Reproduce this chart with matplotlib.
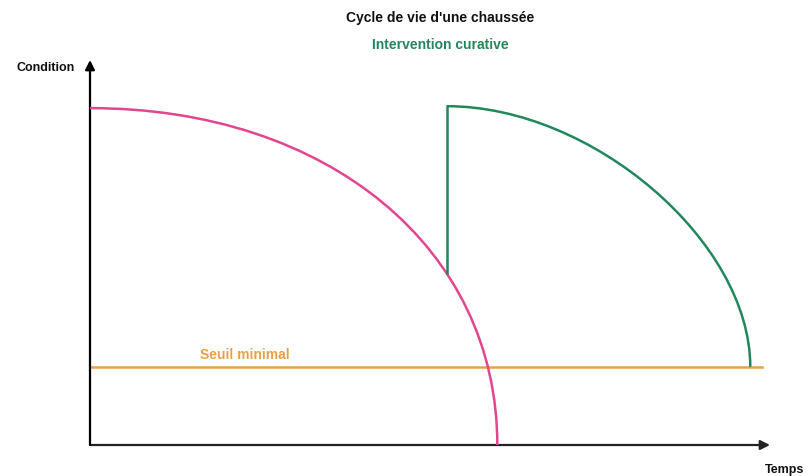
import matplotlib.pyplot as plt
from matplotlib.path import Path
from matplotlib.patches import PathPatch

# temps 0..100, condition 0..100 (unités arbitraires)
pink_start = (0, 87.5)           # condition initiale
pink_end = (59.9, 0)             # fin de vie sans intervention
pink_round = 0.584

green_x = 52.5                   # instant de l'intervention
green_jump = (44.7, 88.0)        # condition avant / après
green_end = (97.1, 20.3)
green_round = 0.48

seuil = 20.3
seuil_fin = 98.8

pink = "#e2468f"
green = "#23875c"
orange = "#e9a044"

plt.rcParams['font.family'] = ['Liberation Sans', 'DejaVu Sans']


def courbe(ax, p0, p1, k, color):
    # quart de courbe : départ horizontal, arrivée verticale
    verts = [p0, (p0[0] + k * (p1[0] - p0[0]), p0[1]),
             (p1[0], p1[1] + k * (p0[1] - p1[1])), p1]
    codes = [Path.MOVETO, Path.CURVE4, Path.CURVE4, Path.CURVE4]
    ax.add_patch(PathPatch(Path(verts, codes), fill=False, edgecolor=color,
                           lw=1.8, zorder=3))


fig = plt.figure(figsize=(8.09, 4.76), dpi=100)
ax = fig.add_axes([90 / 809, 31 / 476, 680 / 809, 385 / 476])
ax.set_xlim(0, 100)
ax.set_ylim(0, 100)
ax.axis('off')

# axes avec flèches
ax.annotate('', xy=(100, 0), xytext=(0, 0), annotation_clip=False,
            arrowprops=dict(arrowstyle='-|>', color='#222222', lw=1.6,
                            mutation_scale=14, shrinkA=0, shrinkB=0))
ax.annotate('', xy=(0, 100), xytext=(0, 0), annotation_clip=False,
            arrowprops=dict(arrowstyle='-|>', color='black', lw=1.6,
                            mutation_scale=14, shrinkA=0, shrinkB=0))

# seuil minimal
ax.plot([0, seuil_fin], [seuil, seuil], color=orange, lw=1.8, zorder=2)

# dégradation initiale
courbe(ax, pink_start, pink_end, pink_round, pink)

# intervention curative
ax.plot([green_x, green_x], green_jump, color=green, lw=1.8, zorder=3)
courbe(ax, (green_x, green_jump[1]), green_end, green_round, green)

ax.text(51.5, 110.9, "Cycle de vie d'une chaussée", ha='center', va='center',
        fontsize=10, fontweight='bold', color='#111111', clip_on=False)
ax.text(51.5, 103.9, "Intervention curative", ha='center', va='center',
        fontsize=10, fontweight='bold', color=green, clip_on=False)
ax.text(-2.2, 97.9, "Condition", ha='right', va='center',
        fontsize=9, fontweight='bold', color='#111111', clip_on=False)
ax.text(99.3, -6.5, "Temps", ha='left', va='center',
        fontsize=9, fontweight='bold', color='#111111', clip_on=False)
ax.text(16.2, 23.4, "Seuil minimal", ha='left', va='center',
        fontsize=10, fontweight='bold', color=orange, clip_on=False)

fig.savefig('out.png', dpi=100)
